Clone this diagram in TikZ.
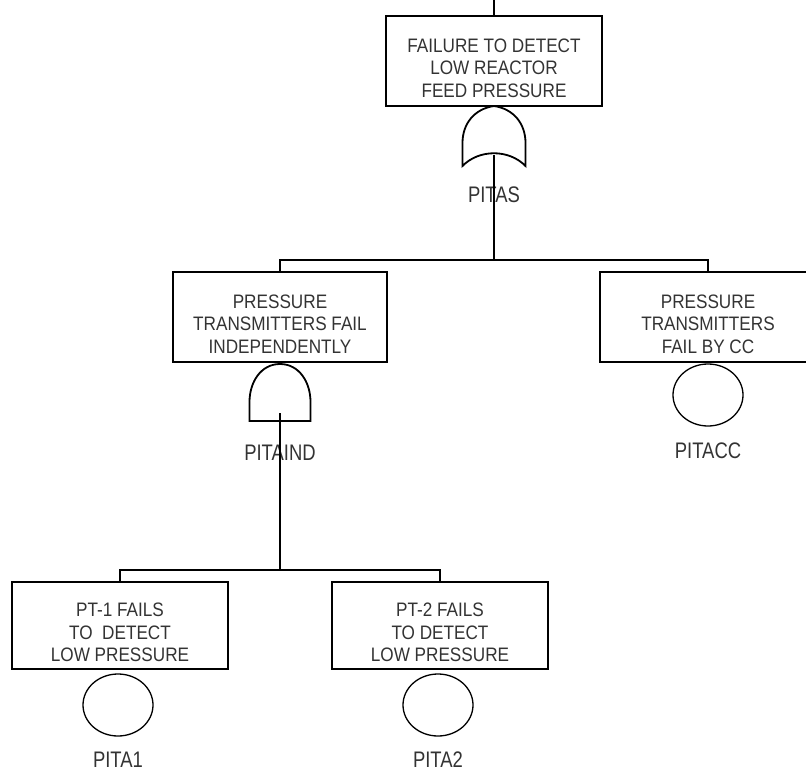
\documentclass[tikz,border=0pt]{standalone}
\usepackage{fontspec}
\setmainfont{Liberation Sans}
\newfontfamily\boxfont{Liberation Sans}[FakeStretch=0.88]
\newfontfamily\labelfont{Liberation Sans}[FakeStretch=0.82]
\usetikzlibrary{shapes.geometric}

\begin{document}
\begin{tikzpicture}[
      x=1pt, y=-1pt,
      event/.style={draw=black, line width=1.8pt, minimum width=216pt, minimum height=90pt,
        align=center, text height=72pt, text depth=0pt, font=\boxfont\fontsize{19.5}{22.5}\selectfont, text=black!80},
      basic/.style={ellipse, draw=black, line width=1.3pt, minimum width=70pt, minimum height=62pt},
      gatelabel/.style={font=\labelfont\fontsize{22.5}{24}\selectfont, text=black!80},
      wire/.style={draw=black, line width=1.8pt},
      orgate/.pic={
        \draw[line width=1.8pt] (0,0) .. controls (20,3) and (31.5,18) .. (31.5,37) -- (31.5,60)
          .. controls (15,43) and (-15,43) .. (-31.5,60) -- (-31.5,37)
          .. controls (-31.5,18) and (-20,3) .. (0,0) -- cycle;
        \coordinate (-out) at (0,49);
      },
      andgate/.pic={
        \draw[line width=1.8pt] (0,0) .. controls (19,0) and (30.5,18) .. (30.5,38) -- (30.5,57)
          -- (-30.5,57) -- (-30.5,38) .. controls (-30.5,18) and (-19,0) .. (0,0) -- cycle;
        \coordinate (-out) at (0,49);
      }
    ]
    \useasboundingbox (0,0) rectangle (806,771);

    % Top event
    \coordinate (in) at (494,0);
    \node[event] (top) at (494,61) {FAILURE TO DETECT\\LOW REACTOR\\FEED PRESSURE};
    \draw[wire] (in) -- (top.north);
    \pic (pitas) at (494,106) {orgate};
    \node[gatelabel] (pitaslbl) at (494,195) {PITAS};

    % Second level
    \node[event, minimum width=214pt] (ind) at (280,317) {PRESSURE\\TRANSMITTERS FAIL\\INDEPENDENTLY};
    \node[event] (cc) at (708,317) {PRESSURE\\TRANSMITTERS\\FAIL BY CC};
    \coordinate (bus1) at (494,260);
    \draw[wire] (pitas-out) -- (bus1);
    \draw[wire] (ind.north) |- (bus1) -| (cc.north);

    \pic (pitaind) at (280,364) {andgate};
    \node[gatelabel] (pitaindlbl) at (280,453) {PITAIND};
    \node[basic] (pitacc) at (708,395) {};
    \node[gatelabel] (pitacclbl) at (708,451) {PITACC};

    % Basic events
    \node[event, minimum height=87pt] (pt1) at (120,625.5) {PT-1 FAILS\\TO\ \ DETECT\\LOW PRESSURE};
    \node[event, minimum height=87pt] (pt2) at (440,625.5) {PT-2 FAILS\\TO DETECT\\LOW PRESSURE};
    \coordinate (bus2) at (280,570);
    \draw[wire] (pitaind-out) -- (bus2);
    \draw[wire] (pt1.north) |- (bus2) -| (pt2.north);

    \node[basic] (pita1) at (118,705) {};
    \node[gatelabel] (pita1lbl) at (118,760) {PITA1};
    \node[basic] (pita2) at (438,705) {};
    \node[gatelabel] (pita2lbl) at (438,760) {PITA2};
  \end{tikzpicture}
\end{document}
